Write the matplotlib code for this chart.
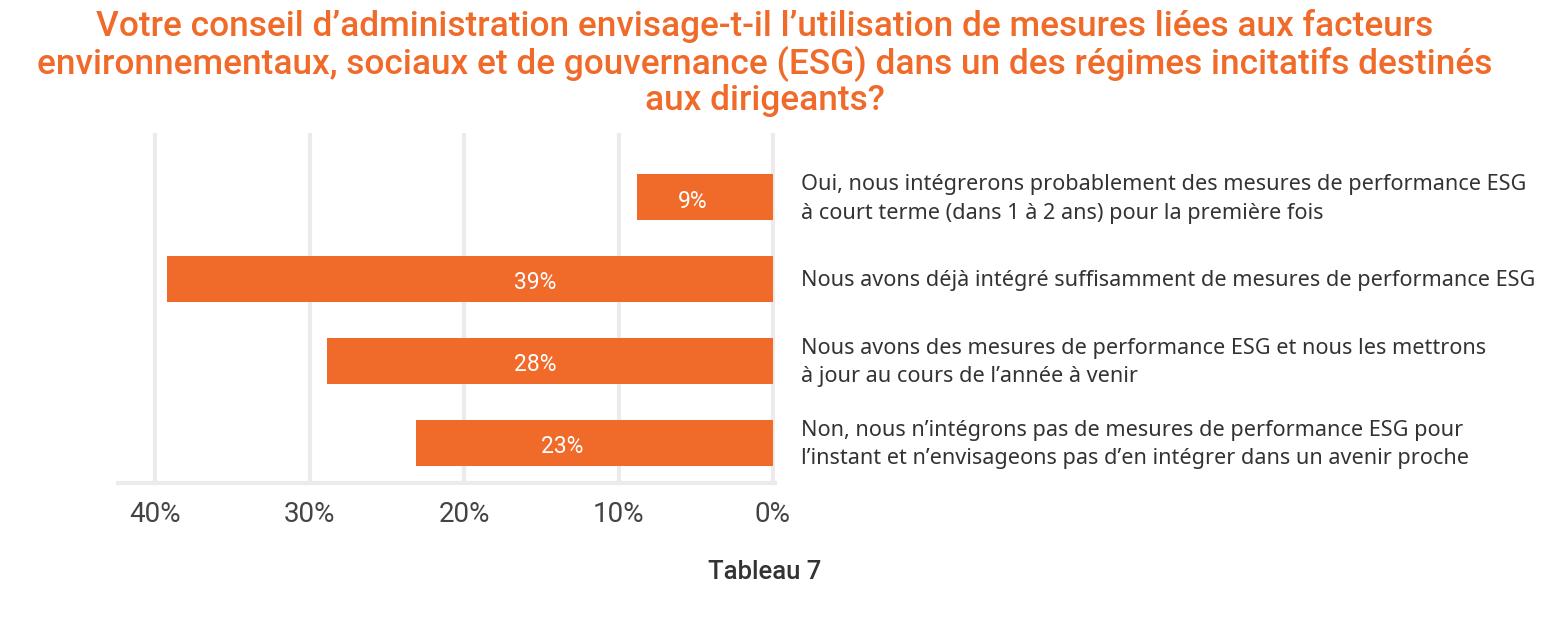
import matplotlib
matplotlib.use("Agg")
import matplotlib.pyplot as plt

din = "Roboto"
body = "Noto Sans"

categories = [
    "Oui, nous intégrerons probablement des mesures de performance ESG\nà court terme (dans 1 à 2 ans) pour la première fois",
    "Nous avons déjà intégré suffisamment de mesures de performance ESG",
    "Nous avons des mesures de performance ESG et nous les mettrons\nà jour au cours de l’année à venir",
    "Non, nous n’intégrons pas de mesures de performance ESG pour\nl’instant et n’envisageons pas d’en intégrer dans un avenir proche",
]
values = [8.8, 39.2, 28.9, 23.1]
value_labels = ["9%", "39%", "28%", "23%"]
xticks = [40, 30, 20, 10, 0]
xtick_labels = ["40%", "30%", "20%", "10%", "0%"]

title = ("Votre conseil d’administration envisage-t-il l’utilisation de mesures liées aux facteurs\n"
         "environnementaux, sociaux et de gouvernance (ESG) dans un des régimes incitatifs destinés\n"
         "aux dirigeants?")
caption = "Tableau 7"

orange = "#f06a2a"
dark = "#333333"

fig = plt.figure(figsize=(15.6, 6.18), dpi=100)
ax = fig.add_axes([118/1560, 1-483/618, 657/1560, 350/618])

ypos = list(range(len(values)))
ax.barh(ypos, values, height=0.56, color=orange, zorder=3)
ax.set_xlim(42.4, -0.13)
ax.set_ylim(3.49, -0.78)

for y, v, lab in zip(ypos, values, value_labels):
    ax.text(min(v * 0.59, 15.4), y + 0.05, lab, ha="center", va="center", color="white",
            fontsize=16.5, family=din, zorder=4)

ax.set_xticks(xticks)
ax.set_xticklabels(xtick_labels, fontsize=20, color="#444444", family=din)
ax.tick_params(axis="x", length=0, pad=13)
ax.set_yticks([])
ax.grid(axis="x", color="#ebebeb", linewidth=3, zorder=0)
for s in ["top", "right", "left"]:
    ax.spines[s].set_visible(False)
ax.spines["bottom"].set_color("#ebebeb")
ax.spines["bottom"].set_linewidth(3)

for y, c in zip(ypos, categories):
    ax.annotate(c, xy=(1.0, y), xycoords=("axes fraction", "data"), xytext=(26, -2),
                textcoords="offset pixels",
                ha="left", va="center", fontsize=15.6, color=dark, family=body,
                linespacing=1.45)

fig.text(765/1560, 1-63/618, title, ha="center", va="center", fontsize=25.4,
         color=orange, family=din, fontweight="medium", linespacing=1.08)
fig.text(765/1560, 1-572/618, caption, ha="center", va="center", fontsize=18.5,
         color=dark, family=din, fontweight="medium")

fig.savefig("out.png", dpi=100)
